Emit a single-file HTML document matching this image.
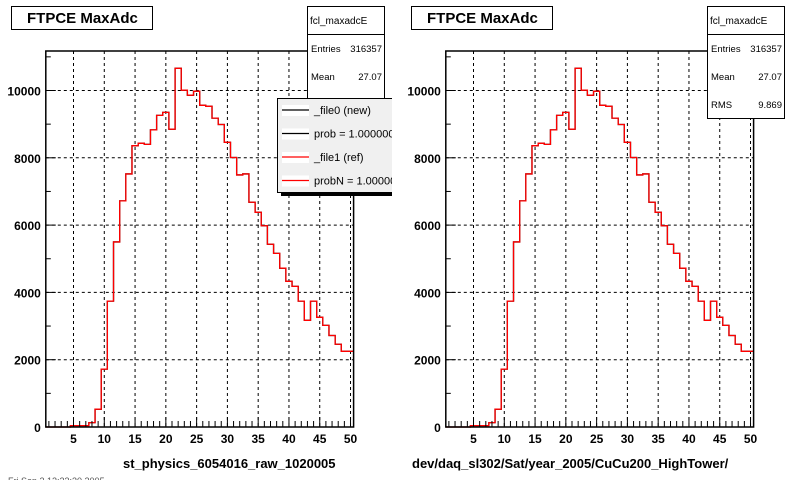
<!DOCTYPE html>
<html><head><meta charset="utf-8"><style>
html,body{margin:0;padding:0;background:#fff;width:800px;height:480px;overflow:hidden}
svg{display:block;font-family:"Liberation Sans",sans-serif}
</style></head><body>
<svg id="c" width="800" height="480" viewBox="0 0 800 480"></svg>
<script>
const binCenters = [1,2,3,4,5,6,7,8,9,10,11,12,13,14,15,16,17,18,19,20,21,22,23,24,25,26,27,28,29,30,31,32,33,34,35,36,37,38,39,40,41,42,43,44,45,46,47,48,49,50];
const refValues = [0,0,0,0,40,40,40,130,530,1720,3740,5500,6720,7520,8360,8430,8400,8830,9260,9350,8850,10660,10010,9860,9980,9560,9530,9180,8990,8460,8010,7490,7520,6680,6380,5980,5430,5160,4720,4330,4180,3740,3170,3740,3260,3020,2720,2460,2250,2250];
const newValues = [0,0,0,0,40,40,40,130,530,1720,3740,5500,6720,7520,8360,8430,8400,8830,9260,9350,8850,10660,10010,9860,9980,9560,9530,9180,8990,8460,8010,7490,7520,6680,6380,5980,5430,5160,4720,4330,4180,3740,3170,3740,3260,3020,2720,2460,2250,2250];
const xTickLabels = [5,10,15,20,25,30,35,40,45,50];
const yTickLabels = [0,2000,4000,6000,8000,10000];
const xAxisTitles = ["st_physics_6054016_raw_1020005","dev/daq_sl302/Sat/year_2005/CuCu200_HighTower/"];

const NS="http://www.w3.org/2000/svg";
const svg=document.getElementById('c');
function mk(tag,attrs,parent){const e=document.createElementNS(NS,tag);for(const k in attrs)e.setAttribute(k,attrs[k]);(parent||svg).appendChild(e);return e;}

function panel(ox, idx){
  const g=mk('g',{});
  
  
  const L=ox+45.8, R=ox+353.6, T=51, B=427;
  const xs=v=>L+(v-0.5)*(R-L)/50;
  const ys=v=>B-v*(B-90.5)/10000;
  const tb=mk('rect',{x:ox+11.5,y:6.5,width:141,height:23,fill:'#fff',stroke:'#000'},g);
  
  
  const tt=mk('text',{x:ox+27,y:23,'font-size':15,'font-weight':'bold'},g);tt.textContent='FTPCE MaxAdc';
  
  
  xTickLabels.forEach(v=>{mk('line',{x1:xs(v),x2:xs(v),y1:T,y2:B,stroke:'#000','stroke-dasharray':'3,3','stroke-width':1},g);});
  yTickLabels.forEach(v=>{if(v>0)mk('line',{x1:L,x2:R,y1:ys(v),y2:ys(v),stroke:'#000','stroke-dasharray':'3,3','stroke-width':1},g);});
  function hist(vals,color,name){
    let d='M'+xs(0.5)+','+ys(0);
    vals.forEach((v,i)=>{const c=binCenters[i];d+=' L'+xs(c-0.5)+','+ys(v)+' L'+xs(c+0.5)+','+ys(v);});
    const p=mk('path',{d:d,fill:'none',stroke:color,'stroke-width':1.3},g);
    
    
  }
  hist(newValues,'#000','histogram-new');
  hist(refValues,'#f00','histogram-ref');
  const fr=mk('rect',{x:L,y:T,width:R-L,height:B-T,fill:'none',stroke:'#000','stroke-width':1.5},g);
  
  
  for(let v=1;v<=50;v++){const big=v%5===0;mk('line',{x1:xs(v),x2:xs(v),y1:B,y2:B-(big?10:6),stroke:'#000'},g);}
  xTickLabels.forEach(v=>{const t=mk('text',{x:xs(v),y:B+16,'font-size':12,'font-weight':'bold','text-anchor':'middle'},g);t.textContent=v;
    
    });
  for(let v=0;v<=11000;v+=1000){const big=v%2000===0;mk('line',{x1:L,x2:L+(big?10:5),y1:ys(v),y2:ys(v),stroke:'#000'},g);}
  yTickLabels.forEach(v=>{const t=mk('text',{x:L-5,y:ys(v)+5,'font-size':12,'font-weight':'bold','text-anchor':'end'},g);t.textContent=v;
    
    });
  const xt=mk('text',{x:idx===0?ox+123:ox+12,y:468,'font-size':13,'font-weight':'bold'},g);xt.textContent=xAxisTitles[idx];
  
  
  const sg=mk('g',{},g);
  
  
  mk('rect',{x:ox+307.5,y:6.5,width:77,height:112,fill:'#fff',stroke:'#000'},sg);
  mk('line',{x1:ox+307.5,x2:ox+384.5,y1:34.5,y2:34.5,stroke:'#000'},sg);
  const s1=mk('text',{x:ox+310,y:24,'font-size':10},sg);s1.textContent='fcl_maxadcE';
  const s2=mk('text',{x:ox+311,y:52,'font-size':9.5},sg);s2.textContent='Entries';
  const s3=mk('text',{x:ox+382,y:52,'font-size':9.5,'text-anchor':'end'},sg);s3.textContent='316357';
  const s4=mk('text',{x:ox+311,y:80,'font-size':9.5},sg);s4.textContent='Mean';
  const s5=mk('text',{x:ox+382,y:80,'font-size':9.5,'text-anchor':'end'},sg);s5.textContent='27.07';
  const s6=mk('text',{x:ox+311,y:108,'font-size':9.5},sg);s6.textContent='RMS';
  const s7=mk('text',{x:ox+382,y:108,'font-size':9.5,'text-anchor':'end'},sg);s7.textContent='9.869';
}
panel(0,0);
panel(400,1);

const lg=mk('g',{});


mk('rect',{x:281,y:193,width:115,height:3,fill:'#000'},lg);
mk('rect',{x:277.5,y:98.5,width:118,height:94,fill:'#f0f0f0',stroke:'#000'},lg);
const legItems=[['_file0 (new)','#000'],['prob = 1.000000','#000'],['_file1 (ref)','#f00'],['probN = 1.000000','#f00']];
legItems.forEach((it,i)=>{
  const y=110+i*23.5;
  const e=mk('g',{},lg);
  
  
  mk('rect',{x:282,y:y-5,width:27,height:11,fill:'#fff'},e);
  mk('line',{x1:282,x2:309,y1:y,y2:y,stroke:it[1],'stroke-width':1.2},e);
  const t=mk('text',{x:314,y:y+4,'font-size':11},e);t.textContent=it[0];
});
mk('rect',{x:392,y:95,width:12,height:110,fill:'#fff'});
const ft=mk('text',{x:8,y:484,'font-size':9,fill:'#555'});ft.textContent='Fri Sep  2 12:23:30 2005';


</script>
</body></html>
